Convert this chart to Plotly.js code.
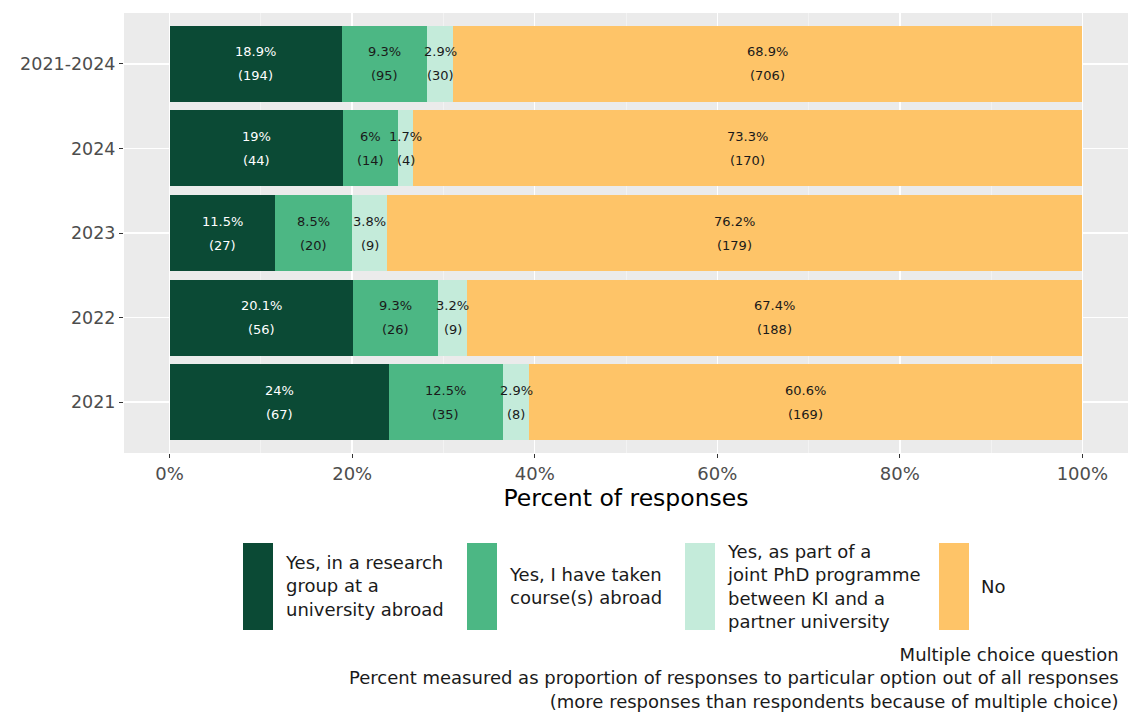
<!DOCTYPE html>
<html>
<head>
<meta charset="utf-8">
<script src="https://cdn.plot.ly/plotly-3.0.1.min.js"></script>
<style>
  html, body { margin: 0; padding: 0; background: #fff; }
  #chart { width: 1128px; height: 714px; }
</style>
</head>
<body>
<div id="chart"></div>
<script>
// periods, top to bottom as in the chart
const periods = ["2021-2024", "2024", "2023", "2022", "2021"];

const options = [
  "Yes, in a research group at a university abroad",
  "Yes, I have taken course(s) abroad",
  "Yes, as part of a joint PhD programme between KI and a partner university",
  "No"
];

// legend text, wrapped like the original
const legendLabels = [
  "Yes, in a research<br>group at a<br>university abroad",
  "Yes, I have taken<br>course(s) abroad",
  "Yes, as part of a<br>joint PhD programme<br>between KI and a<br>partner university",
  "No"
];

// percent of responses per option
const pctResearch = [18.9, 19, 11.5, 20.1, 24];
const pctCourses = [9.3, 6, 8.5, 9.3, 12.5];
const pctJoint = [2.9, 1.7, 3.8, 3.2, 2.9];
const pctNo = [68.9, 73.3, 76.2, 67.4, 60.6];

// response counts per option
const nResearch = [194, 44, 27, 56, 67];
const nCourses = [95, 14, 20, 26, 35];
const nJoint = [30, 4, 9, 9, 8];
const nNo = [706, 170, 179, 188, 169];

const colors = ["#0b4a35", "#4cb784", "#c4ebda", "#fec468"];
const textColors = ["#ffffff", "#1a1a1a", "#1a1a1a", "#1a1a1a"];

const pcts = [pctResearch, pctCourses, pctJoint, pctNo];
const counts = [nResearch, nCourses, nJoint, nNo];

const FONT = "DejaVu Sans, Verdana, sans-serif";
const catOrder = periods.slice().reverse();

const traces = options.map((name, i) => ({
  type: "bar",
  orientation: "h",
  name: name,
  y: periods,
  x: pcts[i],
  marker: { color: colors[i], line: { width: 0 } },
  hoverinfo: "skip",
  showlegend: false
}));

const annotations = [];

// segment labels: percent above, count below, centred in each segment
periods.forEach((p, r) => {
  const yIdx = catOrder.indexOf(p); // numeric position on the category axis
  let start = 0;
  pcts.forEach((arr, i) => {
    const mid = start + arr[r] / 2;
    start += arr[r];
    annotations.push({
      x: mid, y: yIdx, xref: "x", yref: "y", showarrow: false,
      text: arr[r] + "%", yshift: 12,
      font: { family: FONT, size: 13, color: textColors[i] }
    });
    annotations.push({
      x: mid, y: yIdx, xref: "x", yref: "y", showarrow: false,
      text: "(" + counts[i][r] + ")", yshift: -12,
      font: { family: FONT, size: 13, color: textColors[i] }
    });
  });
});

// hand-drawn legend with tall keys (ggplot style)
const W = 1128, H = 714, L = 124, T = 13, B = 261;
const px = (x) => (x - L) / (W - L);
const py = (y) => (H - B - y) / (H - T - B);
const keyX = [243, 467, 685, 939];
const shapes = [];
keyX.forEach((x0, i) => {
  shapes.push({
    type: "rect", xref: "paper", yref: "paper",
    x0: px(x0), x1: px(x0 + 30), y0: py(630), y1: py(543),
    fillcolor: colors[i], line: { width: 0 }
  });
  annotations.push({
    xref: "paper", yref: "paper",
    x: px(x0 + 40), y: py(586),
    xanchor: "left", yanchor: "middle", align: "left",
    text: legendLabels[i], showarrow: false,
    font: { family: FONT, size: 18, color: "#1a1a1a" }
  });
});

// caption bottom-right
annotations.push({
  xref: "paper", yref: "paper", x: px(1121), y: py(678),
  xanchor: "right", yanchor: "middle", align: "right", showarrow: false,
  text: "Multiple choice question<br>Percent measured as proportion of responses to particular option out of all responses<br>(more responses than respondents because of multiple choice)",
  font: { family: FONT, size: 18, color: "#1a1a1a" }
});

const layout = {
  width: 1128,
  height: 714,
  barmode: "stack",
  bargap: 0.1,
  paper_bgcolor: "#ffffff",
  plot_bgcolor: "#ebebeb",
  margin: { l: L, r: 0, t: T, b: B },
  font: { family: FONT },
  xaxis: {
    range: [-5, 105],
    tickvals: [0, 20, 40, 60, 80, 100],
    ticktext: ["0%", "20%", "40%", "60%", "80%", "100%"],
    showgrid: true,
    gridcolor: "#ffffff",
    gridwidth: 1.5,
    minor: { tickvals: [10, 30, 50, 70, 90], showgrid: true, gridcolor: "#f6f6f6", gridwidth: 0.7 },
    zeroline: false,
    ticks: "outside",
    ticklen: 4,
    tickcolor: "#333333",
    tickfont: { family: FONT, size: 18, color: "#4d4d4d" },
    title: { text: "Percent of responses", font: { family: FONT, size: 23.5, color: "#000000" }, standoff: 0 },
    fixedrange: true
  },
  yaxis: {
    type: "category",
    categoryorder: "array",
    categoryarray: catOrder,
    range: [-0.6, 4.6],
    showgrid: true,
    gridcolor: "#ffffff",
    gridwidth: 1.5,
    zeroline: false,
    ticks: "outside",
    ticklen: 4,
    tickcolor: "#333333",
    tickfont: { family: FONT, size: 17.5, color: "#4d4d4d" },
    fixedrange: true
  },
  shapes: shapes,
  annotations: annotations,
  showlegend: false
};

Plotly.newPlot("chart", traces, layout, { displayModeBar: false, staticPlot: true });
</script>
</body>
</html>
